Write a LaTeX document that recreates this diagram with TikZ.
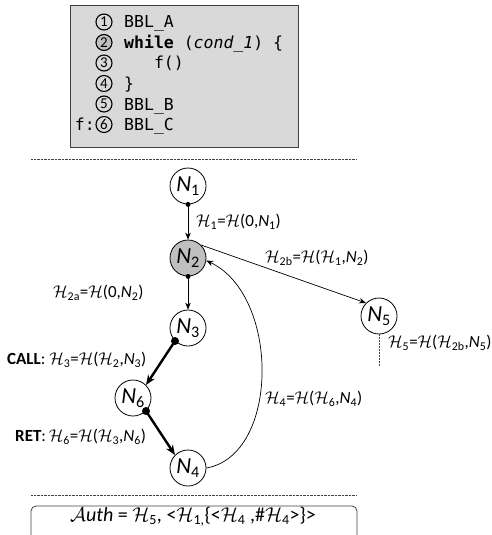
\RequirePackage{fix-cm}
\documentclass[tikz,border=0pt]{standalone}
\usepackage{fontspec}
\setmainfont{Carlito}
\setmonofont{DejaVu Sans Mono}
\usetikzlibrary{arrows.meta}
\definecolor{boxgray}{HTML}{D9D9D9}
\definecolor{nodegray}{HTML}{BFBFBF}
\definecolor{linegray}{HTML}{404040}
\newcommand\Hc{$\mathcal{H}$}
\newcommand\Hs[1]{$\mathcal{H}$\textsubscript{#1}}
\newcommand\Ns[1]{\textit{N}\textsubscript{#1}}
\begin{document}
\begin{tikzpicture}[x=1pt,y=-1pt,
  graphnode/.style={circle,draw,line width=0.8pt,minimum size=36pt,inner sep=0pt,
    font=\fontsize{23}{26}\selectfont},
  num/.style={circle,draw=black,line width=1.1pt,minimum size=16pt,inner sep=0pt,
    font=\fontsize{15}{15}\selectfont},
  code/.style={anchor=base west,inner sep=0pt,font=\ttfamily\fontsize{16.5}{18}\selectfont},
  lab/.style={inner sep=0pt,anchor=west,font=\fontsize{17}{19}\selectfont},
  edge/.style={-{Stealth[length=7pt,width=5.5pt]},line width=0.7pt},
  heavyedge/.style={-{Stealth[length=10pt,width=8pt]},line width=2.4pt},
  dot/.style={circle,fill,inner sep=0pt,minimum size=5pt},
  bigdot/.style={circle,fill,inner sep=0pt,minimum size=8pt},
  sep/.style={linegray,line width=0.6pt,dash pattern=on 0.7pt off 0.7pt}
]
\useasboundingbox (0,0) rectangle (491,535);

% source listing
\draw[fill=boxgray,draw=linegray,line width=1pt] (70,6) rectangle (298,147);
\node[num] (c1) at (104,22) {1};
\node[num,fill=nodegray] (c2) at (104,42.5) {2};
\node[num] (c3) at (104,63) {3};
\node[num] (c4) at (104,83.5) {4};
\node[num] (c5) at (104,104) {5};
\node[num] (c6) at (104,124.5) {6};
\node[code] (l1) at (124,22+6) {BBL\_A};
\node[code] (l2) at (124,42.5+6) {\textbf{while} (\textit{cond\_1}) \{};
\node[code] (l3) at (124,63+6) {\phantom{xxx}f()};
\node[code] (l4) at (124,83.5+6) {\}};
\node[code] (l5) at (124,104+6) {BBL\_B};
\node[code] (l6) at (124,124.5+6) {BBL\_C};
\node[code,anchor=base east] (fl) at (95,124.5+6) {f:};

% separators
\coordinate (s1a) at (31,159);
\coordinate (s1b) at (356,159);
\coordinate (s2a) at (31,495);
\coordinate (s2b) at (356,495);
\draw[sep] (s1a) -- (s1b);
\draw[sep] (s2a) -- (s2b);

% control-flow graph
\node[graphnode] (N1) at (188,186) {\Ns{1}};
\node[graphnode,fill=nodegray] (N2) at (188,258) {\Ns{2}};
\node[graphnode] (N3) at (188,328) {\Ns{3}};
\node[graphnode] (N6) at (133,398) {\Ns{6}};
\node[graphnode] (N4) at (188,468) {\Ns{4}};
\node[graphnode] (N5) at (379,316) {\Ns{5}};

\draw[edge] (N1.south) -- (N2.north);
\node[dot] at (N1.south) {};
\draw[edge] (N2.south) -- (N3.north);
\node[dot] at (N2.south) {};
\draw[edge] (N2.45) -- (N5.135);
\draw[heavyedge] (N3.-135) -- (N6.45);
\node[bigdot] at (N3.-135) {};
\draw[heavyedge] (N6.-45) -- (N4.135);
\node[bigdot] at (N6.-45) {};
\draw[edge] (N4.east) .. controls (280,455) and (280,295) .. (N2.-8);
\coordinate (n5end) at (379,367);
\draw[linegray,line width=0.7pt,dash pattern=on 2pt off 1pt] (N5.south) -- (n5end);

% hash labels
\node[lab] (h1) at (196,222) {\Hs{1}=\Hc(0,\Ns{1})};
\node[lab] (h2b) at (265,258) {\Hs{2b}=\Hc(\Hs{1},\Ns{2})};
\node[lab] (h2a) at (53,293) {\Hs{2a}=\Hc(0,\Ns{2})};
\node[lab] (h3) at (7,360) {\textbf{CALL}: \Hs{3}=\Hc(\Hs{2},\Ns{3})};
\node[lab] (h6) at (15,437) {\textbf{RET}:\,\Hs{6}=\Hc(\Hs{3},\Ns{6})};
\node[lab] (h4) at (265,399) {\Hs{4}=\Hc(\Hs{6},\Ns{4})};
\node[lab] (h5) at (388,343) {\Hs{5}=\Hc(\Hs{2b},\Ns{5})};

% authenticator
\draw[linegray,line width=0.8pt,rounded corners=5pt] (31,506) rectangle (357,552);
\node[inner sep=0pt,font=\fontsize{20}{22}\selectfont] (auth) at (193,517)
  {$\mathcal{A}$\textit{uth} = \Hs{5}, <\Hs{1,}\{<\Hs{4} ,\#\Hs{4}>\}>};
\end{tikzpicture}
\end{document}
